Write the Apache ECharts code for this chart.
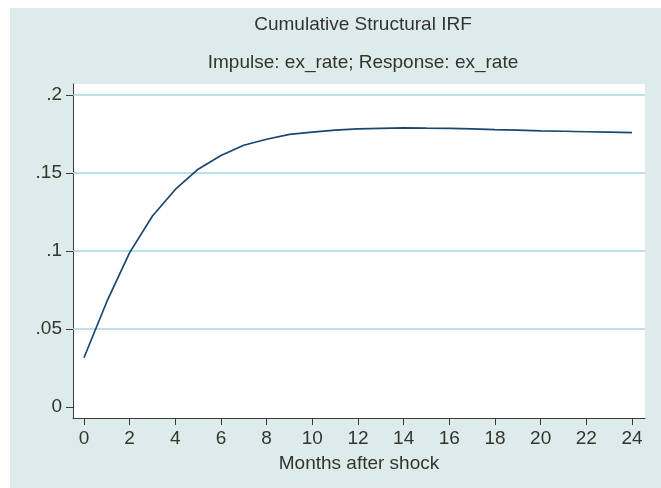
<!DOCTYPE html>
<html>
<head>
<meta charset="utf-8">
<script src="https://cdn.jsdelivr.net/npm/echarts@6/dist/echarts.min.js"></script>
<style>
html,body{margin:0;padding:0;background:#ffffff;}
#chart{position:absolute;left:10px;top:8px;width:651px;height:480px;}
</style>
</head>
<body>
<div id="chart"></div>
<script>
const months = [0,1,2,3,4,5,6,7,8,9,10,11,12,13,14,15,16,17,18,19,20,21,22,23,24];
const cirf = [0.0316,0.0675,0.0990,0.1225,0.1395,0.1525,0.1612,0.1678,0.1717,0.1748,0.1763,0.1775,0.1783,0.1787,0.1790,0.1788,0.1787,0.1783,0.1778,0.1775,0.1771,0.1768,0.1765,0.1762,0.1759];
const xTicks = [0,2,4,6,8,10,12,14,16,18,20,22,24];
const yTicks = [0,0.05,0.1,0.15,0.2];
const gridLines = [0.05,0.1,0.15,0.2];
const titleText = 'Cumulative Structural IRF';
const subtitleText = 'Impulse: ex_rate; Response: ex_rate';
const xTitle = 'Months after shock';

const FONT = 'Liberation Sans, Arial, sans-serif';
const TXT = '#333333';
const GRIDC = '#a6d6e2';
const chart = echarts.init(document.getElementById('chart'), null, {renderer:'canvas'});
chart.setOption({
  backgroundColor: '#ddeceb',
  animation: false,
  title: [
    {text: titleText, left: 348, top: 2, textAlign: 'center',
     textStyle: {fontFamily: FONT, fontSize: 19, fontWeight: 'normal', color: TXT}},
    {text: subtitleText, left: 348, top: 40, textAlign: 'center',
     textStyle: {fontFamily: FONT, fontSize: 19, fontWeight: 'normal', color: TXT}}
  ],
  grid: {left: 63, right: 16, top: 76, bottom: 70, show: true, backgroundColor: '#ffffff', borderWidth: 0},
  xAxis: {
    type: 'value', min: -0.48, max: 24.57,
    name: xTitle, nameLocation: 'middle', nameGap: 36,
    nameTextStyle: {fontFamily: FONT, fontSize: 19, color: TXT},
    axisLine: {show: true, onZero: false, lineStyle: {color: '#3a3a3a', width: 1}},
    axisTick: {show: true, length: 7, customValues: xTicks, lineStyle: {color: '#3a3a3a'}},
    axisLabel: {customValues: xTicks, margin: 11, fontFamily: FONT, fontSize: 19, color: TXT},
    splitLine: {show: false}
  },
  yAxis: {
    type: 'value', min: -0.00705, max: 0.2071,
    axisLine: {show: true, onZero: false, lineStyle: {color: '#3a3a3a', width: 1}},
    axisTick: {show: true, length: 7, customValues: yTicks, lineStyle: {color: '#3a3a3a'}},
    axisLabel: {customValues: yTicks, margin: 11, fontFamily: FONT, fontSize: 19, color: TXT,
      formatter: v => (Math.abs(v) < 1e-9 ? '0' : String(+v.toFixed(4)).replace(/^0\./, '.'))},
    splitLine: {show: false}
  },
  series: [{
    type: 'line',
    data: months.map((m, i) => [m, cirf[i]]),
    showSymbol: false,
    lineStyle: {color: '#1a476f', width: 1.7},
    z: 3,
    markLine: {
      silent: true, symbol: ['none','none'], label: {show: false},
      lineStyle: {color: GRIDC, width: 1.5, type: 'solid', opacity: 1},
      emphasis: {disabled: true},
      data: gridLines.map(v => ({yAxis: v, lineStyle: {color: GRIDC, width: 1.5, type: 'solid'}})),
      z: 1
    }
  }]
});
</script>
</body>
</html>
